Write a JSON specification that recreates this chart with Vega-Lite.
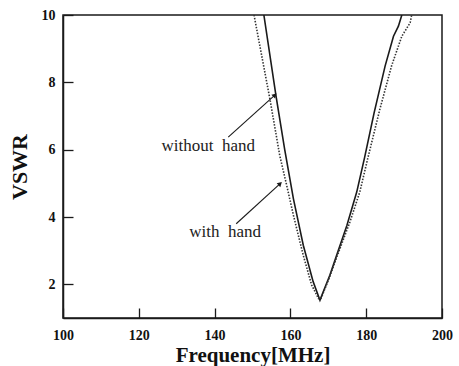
{
  "$schema": "https://vega.github.io/schema/vega-lite/v6.json",
  "width": 379,
  "height": 303,
  "autosize": {"type": "none"},
  "padding": {"left": 63, "top": 15, "right": 17, "bottom": 48},
  "background": "white",
  "config": {
    "view": {"stroke": "#1a1a1a", "strokeWidth": 1.5}
  },
  "datasets": {
    "curve_without": [
      {"freq": 153.0, "vswr": 10.0},
      {"freq": 156.2, "vswr": 7.6},
      {"freq": 158.5, "vswr": 6.0},
      {"freq": 160.8, "vswr": 4.54},
      {"freq": 163.4, "vswr": 3.16},
      {"freq": 166.0, "vswr": 2.08},
      {"freq": 167.8, "vswr": 1.53},
      {"freq": 170.4, "vswr": 2.27},
      {"freq": 172.2, "vswr": 2.86},
      {"freq": 174.9, "vswr": 3.75},
      {"freq": 177.5, "vswr": 4.74},
      {"freq": 179.6, "vswr": 5.78},
      {"freq": 182.1, "vswr": 7.1},
      {"freq": 185.0, "vswr": 8.49},
      {"freq": 187.2, "vswr": 9.37},
      {"freq": 188.5, "vswr": 9.67},
      {"freq": 189.4, "vswr": 10.0}
    ],
    "curve_with": [
      {"freq": 150.4, "vswr": 10.0},
      {"freq": 154.6, "vswr": 7.5},
      {"freq": 157.2, "vswr": 5.82},
      {"freq": 159.0, "vswr": 4.95},
      {"freq": 160.8, "vswr": 4.05},
      {"freq": 163.4, "vswr": 2.86},
      {"freq": 165.6, "vswr": 1.98},
      {"freq": 167.4, "vswr": 1.58},
      {"freq": 168.0, "vswr": 1.56},
      {"freq": 170.3, "vswr": 2.2},
      {"freq": 172.4, "vswr": 2.86},
      {"freq": 175.7, "vswr": 3.85},
      {"freq": 178.3, "vswr": 4.74},
      {"freq": 180.5, "vswr": 5.78},
      {"freq": 183.6, "vswr": 7.2},
      {"freq": 186.7, "vswr": 8.49},
      {"freq": 189.4, "vswr": 9.37},
      {"freq": 191.6, "vswr": 9.77},
      {"freq": 192.0, "vswr": 10.0}
    ],
    "pointers": [
      {"x1": 143.6, "y1": 6.37, "x2": 155.9, "y2": 7.62},
      {"x1": 145.7, "y1": 3.8, "x2": 157.3, "y2": 4.99}
    ],
    "notes": [
      {"freq": 126.0, "vswr": 6.12, "note": "without\u00a0\u00a0hand"},
      {"freq": 133.3, "vswr": 3.56, "note": "with\u00a0\u00a0hand"}
    ]
  },
  "layer": [
    {
      "data": {"name": "curve_without"},
      "mark": {"type": "line", "color": "#1a1a1a", "strokeWidth": 1.6, "clip": true},
      "encoding": {
        "x": {
          "field": "freq", "type": "quantitative",
          "scale": {"domain": [100, 200], "nice": false, "zero": false},
          "axis": {
            "orient": "bottom", "values": [100, 120, 140, 160, 180, 200],
            "ticks": true, "tickColor": "#1a1a1a", "tickWidth": 1.3, "tickSize": -10,
            "grid": false, "domainColor": "#1a1a1a", "domainWidth": 1.5,
            "labelPadding": 20, "labelFlush": false,
            "labelFont": "Liberation Serif", "labelFontWeight": "bold", "labelFontSize": 14, "labelColor": "#111111",
            "zindex": 2,
            "title": "Frequency[MHz]", "titleFont": "Liberation Serif", "titleFontWeight": "bold", "titleFontSize": 21, "titleColor": "#111111", "titlePadding": 2
          }
        },
        "y": {
          "field": "vswr", "type": "quantitative",
          "scale": {"domain": [1, 10], "nice": false, "zero": false},
          "axis": {
            "orient": "left", "values": [2, 4, 6, 8, 10],
            "ticks": true, "tickColor": "#1a1a1a", "tickWidth": 1.3, "tickSize": -10,
            "grid": false, "domainColor": "#1a1a1a", "domainWidth": 1.5,
            "labelPadding": 18, "labelFlush": false,
            "labelFont": "Liberation Serif", "labelFontWeight": "bold", "labelFontSize": 14, "labelColor": "#111111",
            "zindex": 2,
            "title": "VSWR", "titleFont": "Liberation Serif", "titleFontWeight": "bold", "titleFontSize": 22, "titleColor": "#111111", "titlePadding": 10
          }
        }
      }
    },
    {
      "data": {"name": "curve_with"},
      "mark": {"type": "line", "color": "#333333", "strokeWidth": 1.6, "strokeDash": [1.5, 1.5], "clip": true},
      "encoding": {
        "x": {"field": "freq", "type": "quantitative"},
        "y": {"field": "vswr", "type": "quantitative"}
      }
    },
    {
      "data": {"name": "pointers"},
      "mark": {"type": "rule", "color": "#1a1a1a", "strokeWidth": 1.1},
      "encoding": {
        "x": {"field": "x1", "type": "quantitative"},
        "x2": {"field": "x2"},
        "y": {"field": "y1", "type": "quantitative"},
        "y2": {"field": "y2"}
      }
    },
    {
      "data": {"name": "pointers"},
      "mark": {"type": "point", "shape": "triangle-up", "filled": true, "color": "#1a1a1a", "size": 28, "angle": 47, "opacity": 1},
      "encoding": {
        "x": {"field": "x2", "type": "quantitative"},
        "y": {"field": "y2", "type": "quantitative"}
      }
    },
    {
      "data": {"name": "notes"},
      "mark": {"type": "text", "align": "left", "baseline": "middle", "font": "Liberation Serif", "fontSize": 17, "color": "#222222"},
      "encoding": {
        "x": {"field": "freq", "type": "quantitative"},
        "y": {"field": "vswr", "type": "quantitative"},
        "text": {"field": "note"}
      }
    }
  ]
}
